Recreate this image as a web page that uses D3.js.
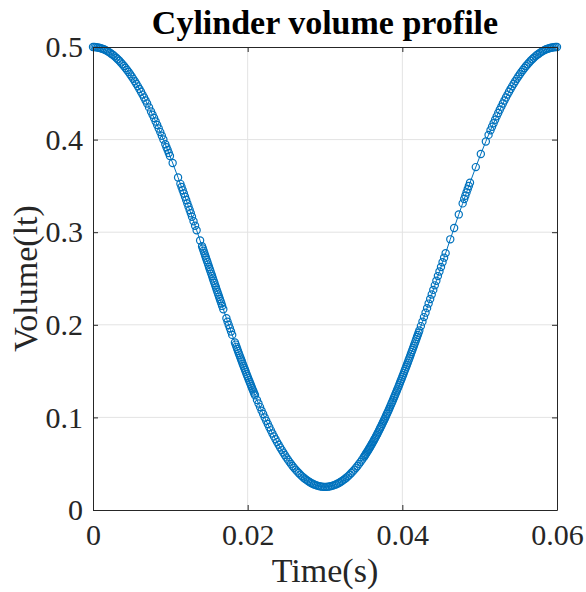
<!DOCTYPE html>
<html>
<head>
<meta charset="utf-8">
<script src="https://cdn.jsdelivr.net/npm/d3@7"></script>
<style>
body { margin: 0; background: #fff; }
text { font-family: "Liberation Serif", "Times New Roman", serif; }
</style>
</head>
<body>
<script>
var width = 586,
    height = 592,
    margin = {top: 47, right: 29, bottom: 82, left: 93};

// simulation time (ms) and cylinder volume (lt)
var timeMs = [
  0, 0.2, 0.4, 0.6, 0.8, 1.0, 1.2, 1.4, 1.6, 1.8, 2.0, 2.2, 2.4, 2.6, 2.8, 3.0, 3.2, 3.4,
  3.6, 3.8, 4.0, 4.2, 4.4, 4.6, 4.8, 5.0, 5.2, 5.4, 5.6, 5.8, 6.0, 6.2, 6.4, 6.6, 6.8, 7.0,
  7.25,
  7.5, 7.7, 7.9, 8.1, 8.3, 8.5, 8.7, 8.9, 9.1,
  9.35, 9.5, 9.65, 9.8, 9.95,
  10.3, 11.0,
  11.3, 11.45, 11.6, 11.75, 11.9, 12.05, 12.2, 12.35, 12.5, 12.65, 12.8,
  13.0, 13.2, 13.4,
  13.85,
  14.1, 14.2, 14.3, 14.4, 14.5, 14.6, 14.7, 14.8, 14.9, 15.0, 15.1, 15.2, 15.3, 15.4,
  15.5, 15.6, 15.7, 15.8, 15.9, 16.0, 16.1, 16.2, 16.3, 16.4, 16.5, 16.6, 16.7,
  16.85,
  17.25, 17.4, 17.55, 17.7, 17.85, 18.0,
  18.35, 18.45, 18.55, 18.65, 18.75, 18.85, 18.95, 19.05, 19.15, 19.25, 19.35, 19.45, 19.55, 19.65,
  19.75, 19.85, 19.95, 20.05, 20.15, 20.25, 20.35, 20.45, 20.55, 20.65, 20.75, 20.85, 20.95,
  21.2, 21.4, 21.6, 21.8, 22.0, 22.2, 22.4, 22.6, 22.8, 23.0, 23.2, 23.4, 23.6, 23.8,
  24.0, 24.2, 24.4, 24.6, 24.8, 25.0, 25.2, 25.4,
  25.6, 25.8, 26.0, 26.2, 26.4, 26.6, 26.8, 27.0, 27.2, 27.4, 27.6, 27.8, 28.0, 28.2, 28.4, 28.6,
  28.8, 29.0, 29.2, 29.4, 29.6, 29.8, 30.0, 30.2, 30.4, 30.6, 30.8, 31.0, 31.2, 31.4, 31.6, 31.8,
  32.0, 32.2, 32.4, 32.6, 32.8, 33.0, 33.2, 33.4, 33.6, 33.8, 34.0, 34.2, 34.4, 34.6, 34.8, 35.0,
  35.1, 35.2, 35.3, 35.4, 35.5, 35.6, 35.7, 35.8, 35.9, 36.0, 36.1, 36.2, 36.3, 36.4, 36.5, 36.6,
  36.7, 36.8, 36.9, 37.0, 37.1, 37.2, 37.3, 37.4, 37.5, 37.6, 37.7, 37.8, 37.9, 38.0, 38.1, 38.2,
  38.3, 38.4, 38.5, 38.6, 38.7, 38.8, 38.9, 39.0, 39.1, 39.2, 39.3, 39.4, 39.5, 39.6, 39.7, 39.8,
  39.9, 40.0, 40.1, 40.2, 40.3, 40.4, 40.5, 40.6, 40.7, 40.8, 40.9, 41.0, 41.1, 41.2, 41.3, 41.4,
  41.5, 41.6, 41.7, 41.8, 41.9, 42.0, 42.1, 42.2,
  42.4, 42.6, 42.8, 43.0, 43.2, 43.4, 43.6, 43.8, 44.0, 44.2, 44.4, 44.6, 44.8, 45.0, 45.2, 45.4, 45.6,
  46.2, 46.7, 47.3, 47.8, 48.0, 48.15, 48.3, 48.45, 48.6, 48.75, 49.5, 50.15, 50.8, 51.15,
  51.4, 51.6, 51.8, 52.0, 52.2, 52.4, 52.6, 52.8, 53.0, 53.2, 53.4, 53.6, 53.8, 54.0, 54.2, 54.4,
  54.6, 54.8, 55.0, 55.2, 55.4, 55.6, 55.8, 56.0, 56.2, 56.4, 56.6, 56.8, 57.0, 57.2, 57.4, 57.6,
  57.8, 58.0, 58.2, 58.4, 58.6, 58.8, 59.0, 59.2, 59.4, 59.6, 59.8, 60.0
];

var volume = [
  0.5000, 0.5000, 0.4998, 0.4995, 0.4992, 0.4987, 0.4981, 0.4975, 0.4967, 0.4958, 0.4948, 0.4937,
  0.4925, 0.4913, 0.4899, 0.4884, 0.4868, 0.4851, 0.4833, 0.4814, 0.4795, 0.4774, 0.4752, 0.4730,
  0.4706, 0.4682, 0.4656, 0.4630, 0.4603, 0.4575, 0.4546, 0.4517, 0.4486, 0.4455, 0.4423, 0.4390,
  0.4348,
  0.4304, 0.4269, 0.4233, 0.4196, 0.4158, 0.4120, 0.4081, 0.4041, 0.4001,
  0.3950, 0.3918, 0.3887, 0.3855, 0.3823,
  0.3747, 0.3591,
  0.3522, 0.3488, 0.3453, 0.3418, 0.3383, 0.3347, 0.3311, 0.3276, 0.3240, 0.3204, 0.3167,
  0.3119, 0.3070, 0.3021,
  0.2910,
  0.2849, 0.2824, 0.2799, 0.2774, 0.2749, 0.2725, 0.2700, 0.2675, 0.2650, 0.2625, 0.2600, 0.2575,
  0.2550, 0.2526, 0.2501, 0.2476, 0.2451, 0.2426, 0.2402, 0.2377, 0.2352, 0.2327, 0.2303, 0.2278,
  0.2254, 0.2229, 0.2204,
  0.2168,
  0.2071, 0.2034, 0.1998, 0.1962, 0.1927, 0.1891,
  0.1809, 0.1786, 0.1762, 0.1739, 0.1716, 0.1693, 0.1670, 0.1648, 0.1625, 0.1603, 0.1580, 0.1558,
  0.1536, 0.1514, 0.1492, 0.1470, 0.1448, 0.1427, 0.1405, 0.1384, 0.1363, 0.1342, 0.1321, 0.1300,
  0.1280, 0.1259, 0.1239,
  0.1189, 0.1150, 0.1111, 0.1073, 0.1036, 0.0999, 0.0963, 0.0928, 0.0894, 0.0860, 0.0827, 0.0795,
  0.0764, 0.0733, 0.0704, 0.0675, 0.0647, 0.0620, 0.0594, 0.0568, 0.0544, 0.0520,
  0.0498, 0.0476, 0.0455, 0.0436, 0.0417, 0.0399, 0.0382, 0.0366, 0.0351, 0.0338, 0.0325, 0.0313,
  0.0302, 0.0292, 0.0283, 0.0276, 0.0269, 0.0263, 0.0258, 0.0255, 0.0252, 0.0250, 0.0250, 0.0250,
  0.0252, 0.0255, 0.0258, 0.0263, 0.0269, 0.0276, 0.0283, 0.0292, 0.0302, 0.0313, 0.0325, 0.0338,
  0.0351, 0.0366, 0.0382, 0.0399, 0.0417, 0.0436, 0.0455, 0.0476, 0.0498, 0.0520, 0.0544, 0.0568,
  0.0581, 0.0594, 0.0607, 0.0620, 0.0633, 0.0647, 0.0661, 0.0675, 0.0689, 0.0704, 0.0718, 0.0733,
  0.0748, 0.0764, 0.0779, 0.0795, 0.0811, 0.0827, 0.0844, 0.0860, 0.0877, 0.0894, 0.0911, 0.0928,
  0.0946, 0.0963, 0.0981, 0.0999, 0.1017, 0.1036, 0.1054, 0.1073, 0.1092, 0.1111, 0.1130, 0.1150,
  0.1169, 0.1189, 0.1209, 0.1229, 0.1249, 0.1270, 0.1290, 0.1311, 0.1332, 0.1352, 0.1374, 0.1395,
  0.1416, 0.1438, 0.1459, 0.1481, 0.1503, 0.1525, 0.1547, 0.1569, 0.1591, 0.1614, 0.1636, 0.1659,
  0.1682, 0.1705, 0.1728, 0.1751, 0.1774, 0.1797, 0.1820, 0.1844, 0.1868, 0.1891, 0.1915, 0.1939,
  0.1986, 0.2034, 0.2083, 0.2131, 0.2180, 0.2229, 0.2278, 0.2327, 0.2377, 0.2426, 0.2476, 0.2526,
  0.2575, 0.2625, 0.2675, 0.2725, 0.2774,
  0.2923, 0.3046, 0.3192, 0.3311, 0.3359, 0.3394, 0.3430, 0.3465, 0.3499, 0.3534, 0.3703, 0.3845,
  0.3980, 0.4051,
  0.4100, 0.4139, 0.4177, 0.4214, 0.4251, 0.4287, 0.4322, 0.4356, 0.4390, 0.4423, 0.4455, 0.4486,
  0.4517, 0.4546, 0.4575, 0.4603, 0.4630, 0.4656, 0.4682, 0.4706, 0.4730, 0.4752, 0.4774, 0.4795,
  0.4814, 0.4833, 0.4851, 0.4868, 0.4884, 0.4899, 0.4913, 0.4925, 0.4937, 0.4948, 0.4958, 0.4967,
  0.4975, 0.4981, 0.4987, 0.4992, 0.4995, 0.4998, 0.5000, 0.5000
];

var xTicks = [0, 0.02, 0.04, 0.06],
    xTickLabels = ['0', '0.02', '0.04', '0.06'];
var yTicks = [0, 0.1, 0.2, 0.3, 0.4, 0.5],
    yTickLabels = ['0', '0.1', '0.2', '0.3', '0.4', '0.5'];

var blue = '#0072bd',
    axisColor = '#262626',
    gridColor = '#e3e3e3';

var data = timeMs.map(function(t, i) {
  return {t: t / 1000, v: volume[i]};
});

var svg = d3.select('body').append('svg')
    .attr('width', width)
    .attr('height', height);

var x = d3.scaleLinear().domain([0, 0.06]).range([margin.left, width - margin.right]);
var y = d3.scaleLinear().domain([0, 0.5]).range([height - margin.bottom, margin.top]);

var plotW = width - margin.left - margin.right,
    plotH = height - margin.top - margin.bottom;

// grid
svg.append('g').selectAll('line.gx')
    .data(xTicks.slice(1, -1)).enter().append('line')
    .attr('x1', function(d) { return x(d); }).attr('x2', function(d) { return x(d); })
    .attr('y1', y(0)).attr('y2', y(0.5))
    .attr('stroke', gridColor).attr('stroke-width', 1);

svg.append('g').selectAll('line.gy')
    .data(yTicks.slice(1, -1)).enter().append('line')
    .attr('x1', x(0)).attr('x2', x(0.06))
    .attr('y1', function(d) { return y(d); }).attr('y2', function(d) { return y(d); })
    .attr('stroke', gridColor).attr('stroke-width', 1);

// data line + markers
var line = d3.line()
    .x(function(d) { return x(d.t); })
    .y(function(d) { return y(d.v); });

svg.append('path')
    .datum(data)
    .attr('d', line)
    .attr('fill', 'none')
    .attr('stroke', blue)
    .attr('stroke-width', 1);

svg.append('g').selectAll('circle')
    .data(data).enter().append('circle')
    .attr('cx', function(d) { return x(d.t); })
    .attr('cy', function(d) { return y(d.v); })
    .attr('r', 3.6)
    .attr('fill', 'none')
    .attr('stroke', blue)
    .attr('stroke-width', 1.2);

// axes (ticks inward on all sides)
var fmtX = function(d, i) { return xTickLabels[i]; },
    fmtY = function(d, i) { return yTickLabels[i]; };

var gx = svg.append('g')
    .attr('transform', 'translate(0,' + (height - margin.bottom) + ')')
    .call(d3.axisBottom(x).tickValues(xTicks).tickFormat(fmtX)
      .tickSizeInner(-5).tickSizeOuter(0).tickPadding(14));

var gy = svg.append('g')
    .attr('transform', 'translate(' + margin.left + ',0)')
    .call(d3.axisLeft(y).tickValues(yTicks).tickFormat(fmtY)
      .tickSizeInner(-5).tickSizeOuter(0).tickPadding(10));

var gt = svg.append('g')
    .attr('transform', 'translate(0,' + margin.top + ')')
    .call(d3.axisTop(x).tickValues(xTicks).tickFormat('')
      .tickSizeInner(-5).tickSizeOuter(0));

var gr = svg.append('g')
    .attr('transform', 'translate(' + (width - margin.right) + ',0)')
    .call(d3.axisRight(y).tickValues(yTicks).tickFormat('')
      .tickSizeInner(-5).tickSizeOuter(0));

[gx, gy, gt, gr].forEach(function(g) {
  g.select('.domain').attr('stroke', axisColor).attr('stroke-width', 1);
  g.selectAll('.tick line').attr('stroke', axisColor);
  g.selectAll('.tick text')
    .attr('fill', axisColor)
    .style('font-family', '"Liberation Serif", "Times New Roman", serif')
    .style('font-size', '30px');
});

// labels
svg.append('text')
    .attr('x', margin.left + plotW / 2)
    .attr('y', 34)
    .attr('text-anchor', 'middle')
    .style('font-size', '34px')
    .style('font-weight', 'bold')
    .attr('fill', '#000')
    .text('Cylinder volume profile');

svg.append('text')
    .attr('x', margin.left + plotW / 2)
    .attr('y', 582)
    .attr('text-anchor', 'middle')
    .style('font-size', '34px')
    .attr('fill', axisColor)
    .text('Time(s)');

svg.append('text')
    .attr('transform', 'translate(37,' + (margin.top + plotH / 2) + ') rotate(-90)')
    .attr('text-anchor', 'middle')
    .style('font-size', '34px')
    .attr('fill', axisColor)
    .text('Volume(lt)');
</script>
</body>
</html>
